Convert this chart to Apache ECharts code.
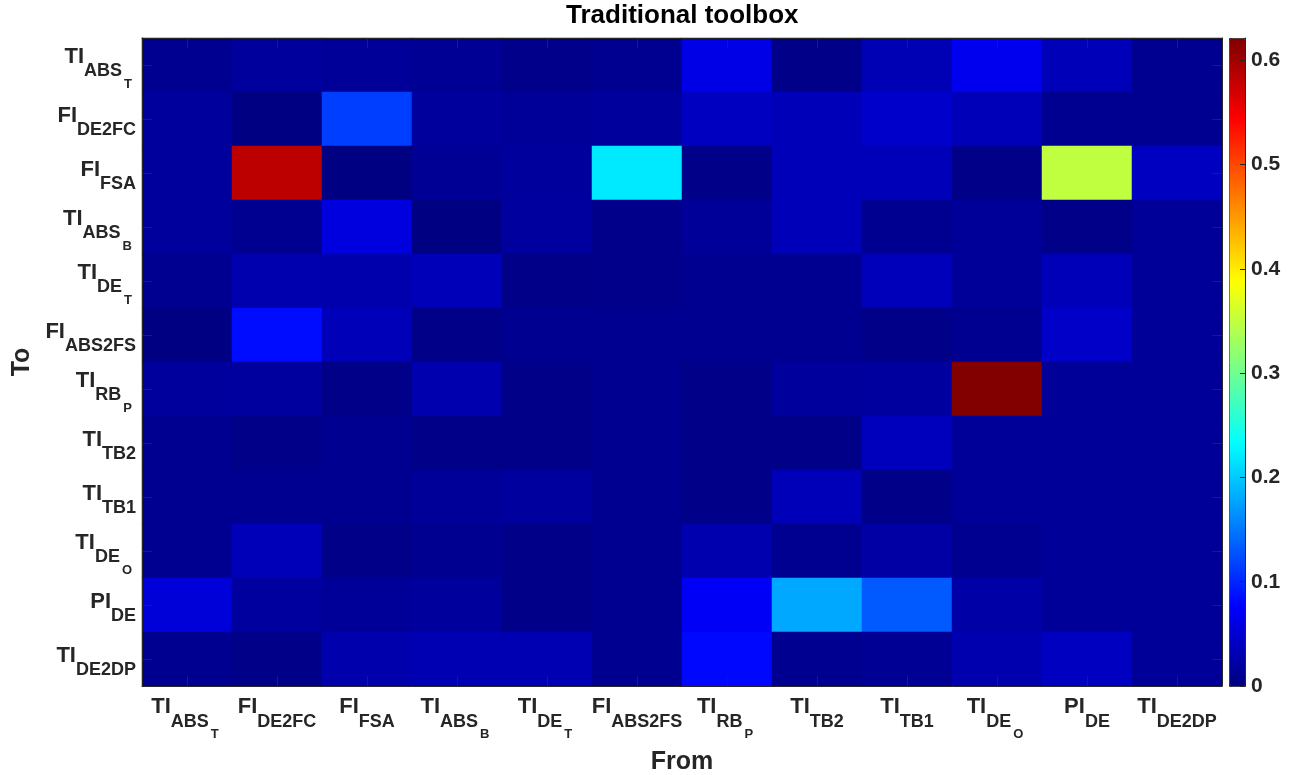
<!DOCTYPE html>
<html>
<head>
<meta charset="utf-8">
<script src="https://cdn.jsdelivr.net/npm/echarts@6/dist/echarts.min.js"></script>
<style>
html,body{margin:0;padding:0;background:#fff;}
#chart{width:1292px;height:775px;}
</style>
</head>
<body>
<div id="chart"></div>
<script>
// Category labels (main text, subscript, sub-subscript)
const labelMain = ['TI', 'FI', 'FI', 'TI', 'TI', 'FI', 'TI', 'TI', 'TI', 'TI', 'PI', 'TI'];
const labelSub = ['ABS', 'DE2FC', 'FSA', 'ABS', 'DE', 'ABS2FS', 'RB', 'TB2', 'TB1', 'DE', 'DE', 'DE2DP'];
const labelSubSub = ['T', '', '', 'B', 'T', '', 'P', '', '', 'O', '', ''];
const categories = ['TI_ABS_T', 'FI_DE2FC', 'FI_FSA', 'TI_ABS_B', 'TI_DE_T', 'FI_ABS2FS',
                    'TI_RB_P', 'TI_TB2', 'TI_TB1', 'TI_DE_O', 'PI_DE', 'TI_DE2DP'];

// Values: one array per "To" row (top to bottom), entries per "From" column (left to right)
const toTI_ABS_T   = [0.010, 0.017, 0.015, 0.012, 0.006, 0.010, 0.063, 0.005, 0.032, 0.068, 0.034, 0.010];
const toFI_DE2FC   = [0.017, 0.002, 0.115, 0.017, 0.015, 0.017, 0.039, 0.034, 0.046, 0.034, 0.010, 0.010];
const toFI_FSA     = [0.017, 0.585, 0.002, 0.012, 0.017, 0.220, 0.005, 0.034, 0.034, 0.005, 0.350, 0.039];
const toTI_ABS_B   = [0.017, 0.010, 0.058, 0.002, 0.019, 0.007, 0.015, 0.034, 0.010, 0.015, 0.005, 0.015];
const toTI_DE_T    = [0.010, 0.029, 0.027, 0.034, 0.005, 0.007, 0.010, 0.010, 0.036, 0.015, 0.034, 0.015];
const toFI_ABS2FS  = [0.002, 0.085, 0.034, 0.005, 0.010, 0.010, 0.010, 0.010, 0.005, 0.010, 0.044, 0.015];
const toTI_RB_P    = [0.017, 0.019, 0.005, 0.029, 0.005, 0.010, 0.005, 0.017, 0.019, 0.620, 0.015, 0.015];
const toTI_TB2     = [0.010, 0.005, 0.010, 0.005, 0.005, 0.010, 0.005, 0.005, 0.037, 0.015, 0.015, 0.015];
const toTI_TB1     = [0.010, 0.010, 0.010, 0.015, 0.019, 0.010, 0.005, 0.034, 0.005, 0.015, 0.015, 0.015];
const toTI_DE_O    = [0.010, 0.034, 0.005, 0.010, 0.005, 0.010, 0.029, 0.010, 0.022, 0.010, 0.015, 0.015];
const toPI_DE      = [0.054, 0.019, 0.015, 0.017, 0.005, 0.010, 0.073, 0.180, 0.132, 0.024, 0.015, 0.015];
const toTI_DE2DP   = [0.010, 0.005, 0.027, 0.031, 0.031, 0.010, 0.082, 0.010, 0.012, 0.029, 0.039, 0.015];

const rows = [toTI_ABS_T, toFI_DE2FC, toFI_FSA, toTI_ABS_B, toTI_DE_T, toFI_ABS2FS,
              toTI_RB_P, toTI_TB2, toTI_TB1, toTI_DE_O, toPI_DE, toTI_DE2DP];

const colorMin = 0;
const colorMax = 0.6214;
const colorTickStep = 0.1;

// jet colormap
const jet = ['#000080', '#0000ff', '#0080ff', '#00ffff', '#80ff80', '#ffff00', '#ff8000', '#ff0000', '#800000'];

const heatData = [];
rows.forEach((row, yi) => row.forEach((v, xi) => heatData.push([xi, yi, v])));

const FONT = 'Liberation Sans';
const TXT = '#262626';
const rich = {
  m:  {fontFamily: FONT, fontWeight: 'bold', fontSize: 22, color: TXT, verticalAlign: 'top', padding: [6, 0, 0, 0]},
  s:  {fontFamily: FONT, fontWeight: 'bold', fontSize: 18, color: TXT, verticalAlign: 'top', padding: [23, 0, 0, 0]},
  ss: {fontFamily: FONT, fontWeight: 'bold', fontSize: 13, color: TXT, verticalAlign: 'top', padding: [38, 4, 0, 2]}
};
function fmt(value, i) {
  let s = '{m|' + labelMain[i] + '}{s|' + labelSub[i] + '}';
  if (labelSubSub[i]) s += '{ss|' + labelSubSub[i] + '}';
  return s;
}

const axisLineStyle = {show: true, lineStyle: {color: TXT, width: 1}};
const tickStyle = {show: true, inside: true, length: 10, alignWithLabel: true, lineStyle: {color: TXT, width: 1}};

const chart = echarts.init(document.getElementById('chart'), null, {renderer: 'canvas'});
chart.setOption({
  backgroundColor: '#ffffff',
  animation: false,
  title: {
    text: 'Traditional toolbox',
    left: 566, top: 3, padding: 0,
    textStyle: {fontFamily: FONT, fontWeight: 'bold', fontSize: 26, color: '#000'}
  },
  grid: [
    {left: 142, top: 38, width: 1080, height: 648, containLabel: false, outerBoundsMode: 'none'},
    {left: 1229, top: 38, width: 16, height: 648, containLabel: false, outerBoundsMode: 'none'}
  ],
  xAxis: [
    {
      type: 'category', gridIndex: 0, data: categories, position: 'bottom', z: 5,
      axisLine: axisLineStyle, axisTick: tickStyle, splitLine: {show: false},
      axisLabel: {interval: 0, margin: 4, formatter: fmt, rich: rich},
      name: 'From', nameLocation: 'middle', nameGap: 64,
      nameTextStyle: {fontFamily: FONT, fontWeight: 'bold', fontSize: 25, color: TXT}
    },
    {
      type: 'category', gridIndex: 0, data: categories, position: 'top', z: 5,
      axisLine: axisLineStyle, axisTick: tickStyle, axisLabel: {show: false}, splitLine: {show: false}
    },
    {type: 'category', gridIndex: 1, data: [''], show: false}
  ],
  yAxis: [
    {
      type: 'category', gridIndex: 0, data: categories, inverse: true, position: 'left', z: 5,
      axisLine: axisLineStyle, axisTick: tickStyle, splitLine: {show: false},
      axisLabel: {interval: 0, margin: 6, formatter: fmt, rich: rich},
      name: 'To', nameLocation: 'middle', nameGap: 104,
      nameTextStyle: {fontFamily: FONT, fontWeight: 'bold', fontSize: 25, color: TXT}
    },
    {
      type: 'category', gridIndex: 0, data: categories, inverse: true, position: 'right', z: 5,
      axisLine: axisLineStyle, axisTick: tickStyle, axisLabel: {show: false}, splitLine: {show: false}
    },
    {
      type: 'value', gridIndex: 1, min: colorMin, max: colorMax, interval: colorTickStep,
      position: 'right', z: 10,
      axisLine: {show: true, lineStyle: {color: TXT, width: 1}},
      axisTick: {show: true, inside: true, length: 5, lineStyle: {color: TXT, width: 1}},
      splitLine: {show: false},
      axisLabel: {
        show: true, margin: 6, showMaxLabel: false,
        fontFamily: FONT, fontWeight: 'bold', fontSize: 21, color: TXT,
        formatter: v => String(Math.round(v * 10) / 10)
      }
    }
  ],
  visualMap: {
    type: 'continuous', seriesIndex: 0, min: colorMin, max: colorMax,
    calculable: false, orient: 'vertical', left: 1229, top: 38,
    itemWidth: 16, itemHeight: 648, padding: 0, text: null, showLabel: false,
    borderColor: TXT, borderWidth: 1,
    inRange: {color: jet}
  },
  series: [{
    type: 'heatmap', xAxisIndex: 0, yAxisIndex: 0, data: heatData,
    itemStyle: {borderWidth: 0},
    emphasis: {disabled: true}
  }]
});
</script>
</body>
</html>
